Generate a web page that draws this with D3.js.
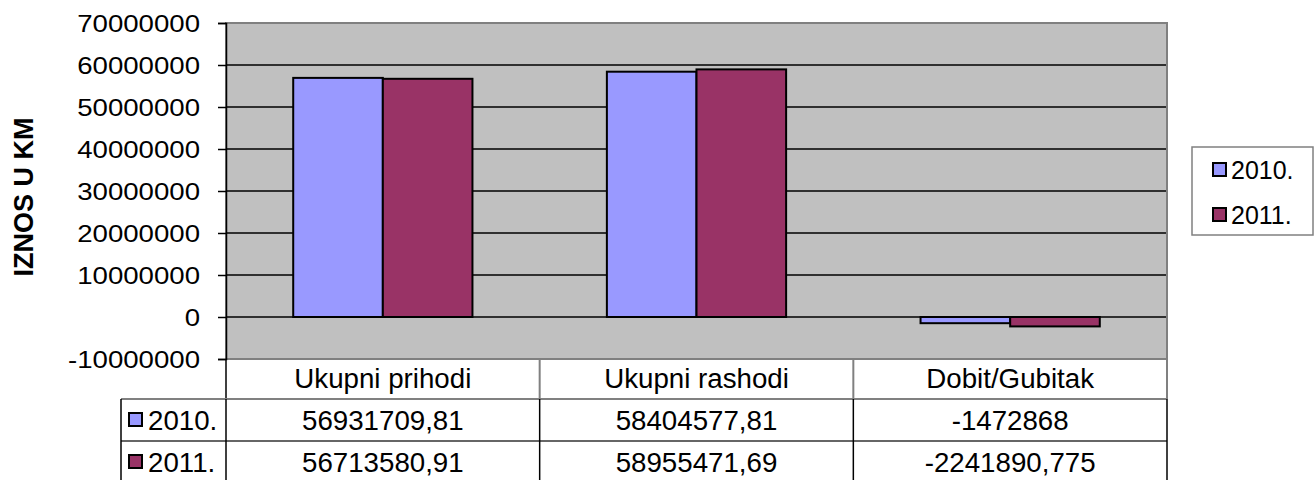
<!DOCTYPE html>
<html>
<head>
<meta charset="utf-8">
<script src="https://cdn.jsdelivr.net/npm/d3@7"></script>
<style>
  body { margin: 0; background: #fff; }
  svg { display: block; font-family: "Liberation Sans", Arial, sans-serif; }
</style>
</head>
<body>
<svg id="chart" width="1314" height="480"></svg>
<script>
const categories = ["Ukupni prihodi", "Ukupni rashodi", "Dobit/Gubitak"];
const seriesNames = ["2010.", "2011."];
const values2010 = [56931709.81, 58404577.81, -1472868];
const values2011 = [56713580.91, 58955471.69, -2241890.775];
const tableLabels2010 = ["56931709,81", "58404577,81", "-1472868"];
const tableLabels2011 = ["56713580,91", "58955471,69", "-2241890,775"];
const yTicks = [-10000000, 0, 10000000, 20000000, 30000000, 40000000, 50000000, 60000000, 70000000];
const yTitle = "IZNOS U KM";
const colors = ["#9999FF", "#993366"];

const series = [values2010, values2011];
const tableRows = [tableLabels2010, tableLabels2011];

const svg = d3.select("#chart");
const plot = { left: 226, right: 1167, top: 23, bottom: 359 };

const x = d3.scaleBand().domain(categories).range([plot.left, plot.right]).padding(0);
const y = d3.scaleLinear().domain([-10000000, 70000000]).range([plot.bottom, plot.top]);
const bw = x.bandwidth() / 3.5;
const xs = d3.scaleBand().domain(seriesNames).range([0.75 * bw, 2.75 * bw]).padding(0);

// plot background
svg.append("rect")
  .attr("x", plot.left).attr("y", plot.top)
  .attr("width", plot.right - plot.left).attr("height", plot.bottom - plot.top)
  .attr("fill", "#C0C0C0");

// gridlines
svg.append("g").selectAll("line")
  .data(yTicks.filter(t => t > -10000000 && t < 70000000))
  .join("line")
  .attr("x1", plot.left).attr("x2", plot.right)
  .attr("y1", d => y(d)).attr("y2", d => y(d))
  .attr("stroke", "#000").attr("stroke-width", 1.3);

// plot border
svg.append("rect")
  .attr("x", plot.left).attr("y", plot.top)
  .attr("width", plot.right - plot.left).attr("height", plot.bottom - plot.top)
  .attr("fill", "none").attr("stroke", "#808080").attr("stroke-width", 2);

// bars
seriesNames.forEach((s, si) => {
  svg.append("g").selectAll("rect")
    .data(categories.map((c, i) => ({ c, v: series[si][i] })))
    .join("rect")
    .attr("x", d => x(d.c) + xs(s))
    .attr("width", xs.bandwidth())
    .attr("y", d => y(Math.max(0, d.v)))
    .attr("height", d => Math.abs(y(d.v) - y(0)))
    .attr("fill", colors[si])
    .attr("stroke", "#000").attr("stroke-width", 2);
});

// y axis
const sx = 1.15;
const yAxis = svg.append("g")
  .attr("transform", `translate(${plot.left},0)`)
  .call(d3.axisLeft(y).tickValues(yTicks).tickSize(8).tickPadding(0).tickFormat(d => String(d)));
yAxis.select(".domain").attr("stroke", "#000").attr("stroke-width", 1.5);
yAxis.selectAll(".tick line").attr("stroke", "#000").attr("stroke-width", 1.5);
yAxis.selectAll(".tick text")
  .attr("x", -26 / sx)
  .attr("dy", "0.36em")
  .attr("transform", `scale(${sx},1)`)
  .attr("font-size", 24)
  .attr("font-family", "Liberation Sans, Arial, sans-serif")
  .attr("fill", "#000");

// axis line extends down through category row
svg.append("line")
  .attr("x1", plot.left).attr("x2", plot.left)
  .attr("y1", plot.bottom).attr("y2", 399)
  .attr("stroke", "#000").attr("stroke-width", 1.5);

// y title
svg.append("text")
  .attr("transform", `translate(33,${(plot.top + plot.bottom) / 2 + 6}) rotate(-90)`)
  .attr("text-anchor", "middle")
  .attr("font-size", 27).attr("font-weight", "bold")
  .text(yTitle);

// data table
const rowTop = 399, rowH = 42, tableLeft = 121;
const tbl = svg.append("g");
tbl.selectAll("text.cat")
  .data(categories).join("text").attr("class", "cat")
  .attr("x", d => x(d) + x.bandwidth() / 2)
  .attr("y", 388)
  .attr("text-anchor", "middle")
  .attr("font-size", 27.7)
  .text(d => d);
tbl.selectAll("line.cv")
  .data(categories.slice(1).concat(["_end"]))
  .join("line").attr("class", "cv")
  .attr("x1", d => d === "_end" ? plot.right : x(d))
  .attr("x2", d => d === "_end" ? plot.right : x(d))
  .attr("y1", plot.bottom).attr("y2", rowTop)
  .attr("stroke", "#808080").attr("stroke-width", 2);
tbl.append("line")
  .attr("x1", tableLeft).attr("x2", plot.right)
  .attr("y1", rowTop).attr("y2", rowTop)
  .attr("stroke", "#808080").attr("stroke-width", 2);
tbl.append("line")
  .attr("x1", tableLeft).attr("x2", plot.right)
  .attr("y1", rowTop + rowH).attr("y2", rowTop + rowH)
  .attr("stroke", "#333").attr("stroke-width", 1.5);
tbl.append("line")
  .attr("x1", tableLeft).attr("x2", plot.right)
  .attr("y1", rowTop + 2 * rowH).attr("y2", rowTop + 2 * rowH)
  .attr("stroke", "#333").attr("stroke-width", 1.5);
[tableLeft, plot.left, x(categories[1]), x(categories[2]), plot.right].forEach(vx => {
  tbl.append("line")
    .attr("x1", vx).attr("x2", vx)
    .attr("y1", rowTop).attr("y2", 480)
    .attr("stroke", "#000").attr("stroke-width", 1.5);
});
tableRows.forEach((row, ri) => {
  const cy = rowTop + ri * rowH + rowH / 2;
  tbl.append("rect")
    .attr("x", 129).attr("y", cy - 7).attr("width", 13).attr("height", 13)
    .attr("fill", colors[ri]).attr("stroke", "#000").attr("stroke-width", 2);
  tbl.append("text")
    .attr("x", 148).attr("y", cy + 9.5)
    .attr("font-size", 27.7)
    .text(seriesNames[ri]);
  tbl.selectAll(null)
    .data(categories.map((c, i) => ({ c, t: row[i] })))
    .join("text")
    .attr("x", d => x(d.c) + x.bandwidth() / 2)
    .attr("y", cy + 9.5)
    .attr("text-anchor", "middle")
    .attr("font-size", 27.7)
    .text(d => d.t);
});

// legend
const lg = svg.append("g");
lg.append("rect")
  .attr("x", 1192).attr("y", 147).attr("width", 121).attr("height", 88)
  .attr("fill", "#fff").attr("stroke", "#808080").attr("stroke-width", 1.5);
seriesNames.forEach((s, i) => {
  const cy = 170 + i * 45;
  lg.append("rect")
    .attr("x", 1213).attr("y", cy - 7).attr("width", 13).attr("height", 13)
    .attr("fill", colors[i]).attr("stroke", "#000").attr("stroke-width", 2);
  lg.append("text")
    .attr("x", 1231).attr("y", cy + 8.5)
    .attr("font-size", 25)
    .text(s);
});
</script>
</body>
</html>
